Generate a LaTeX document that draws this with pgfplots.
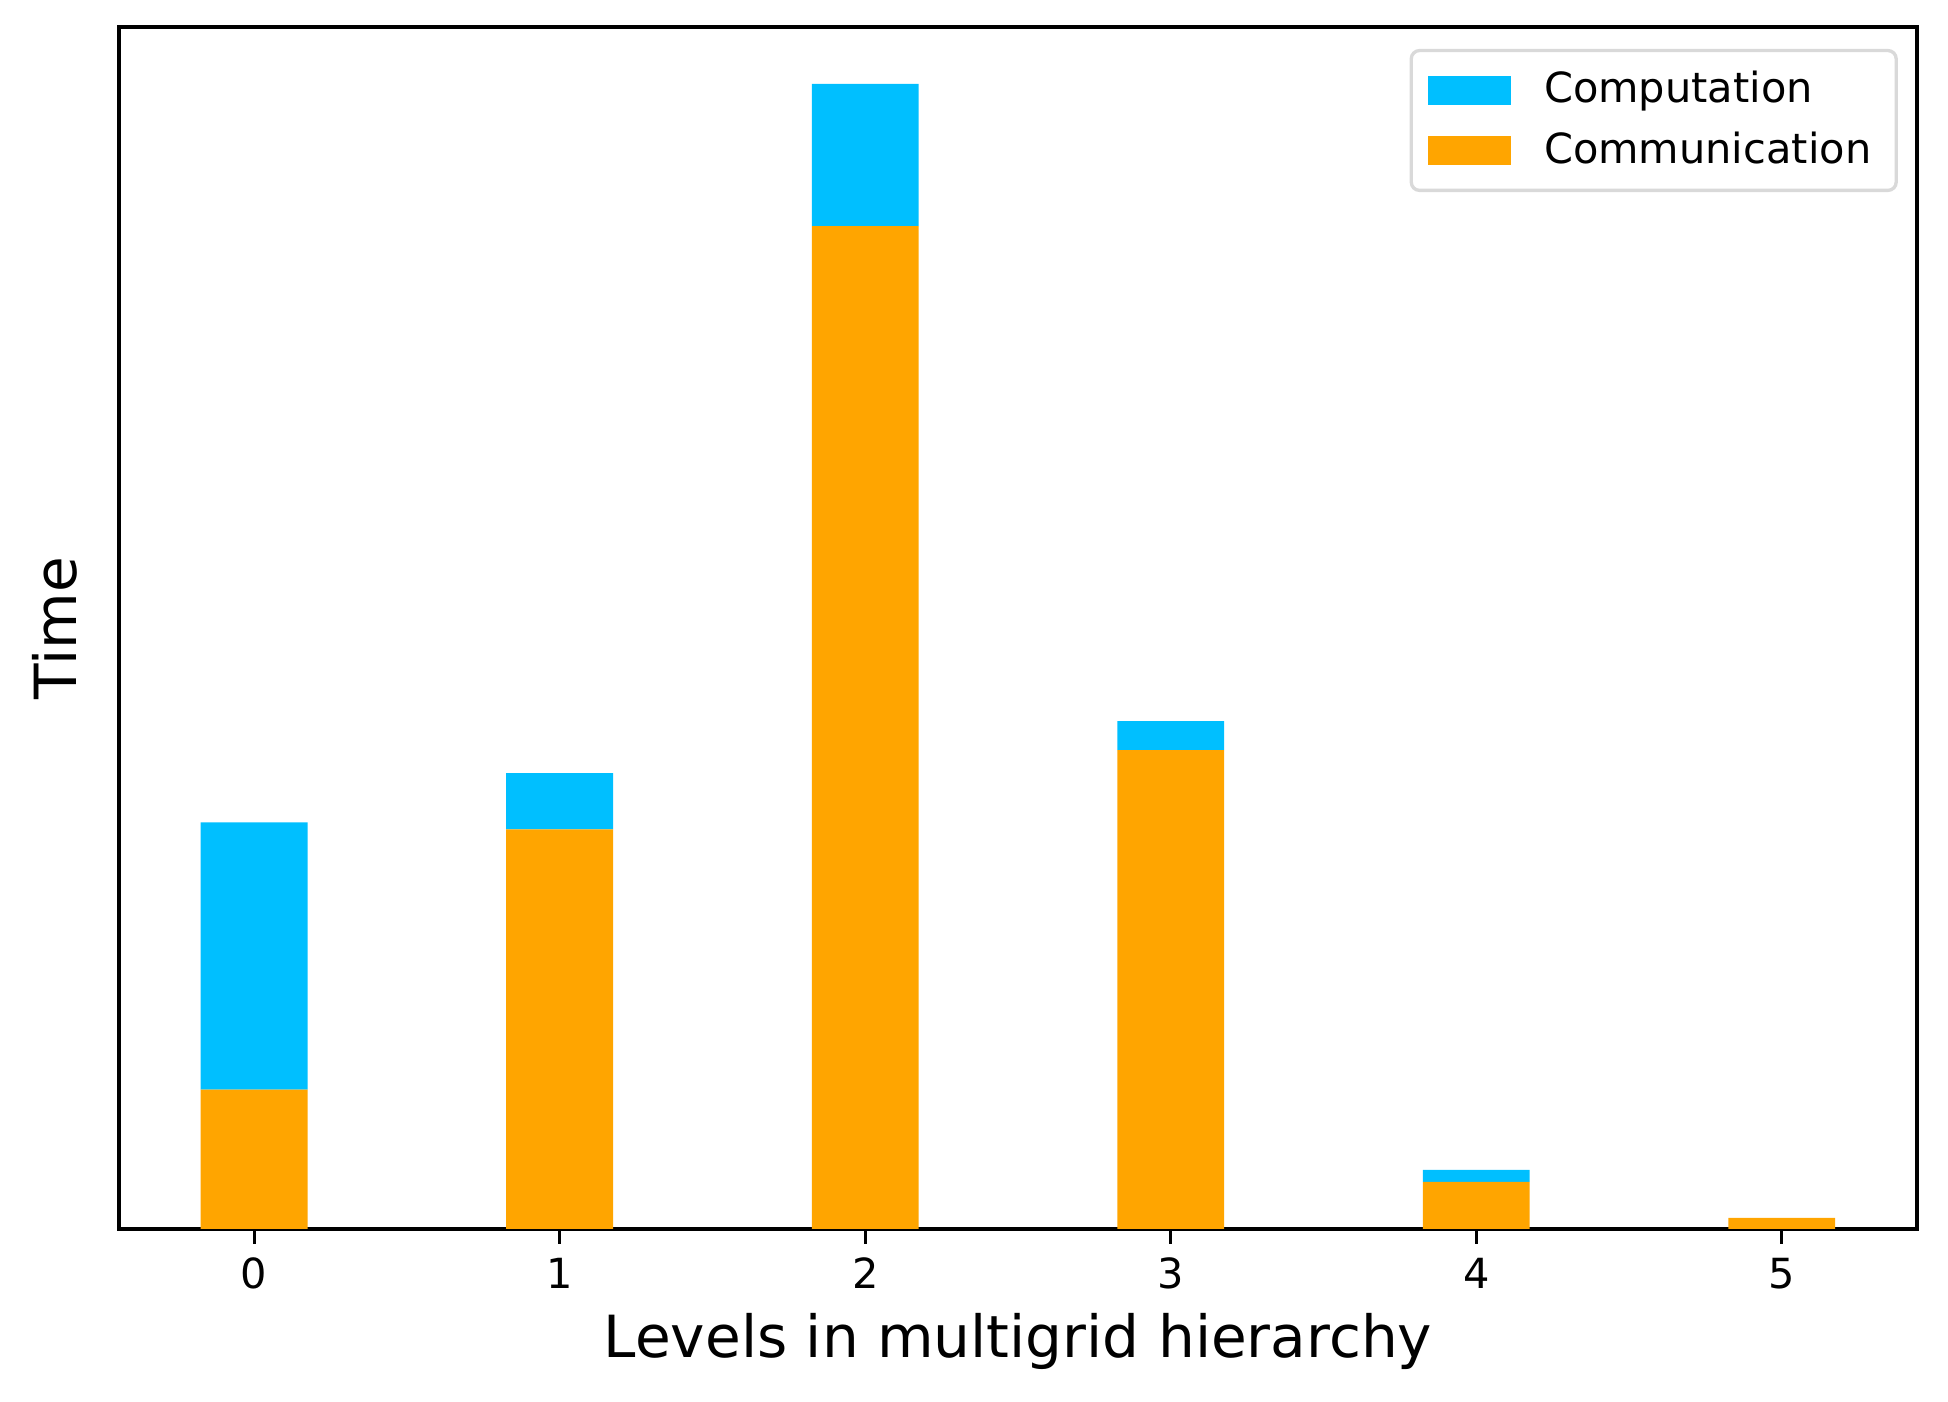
\documentclass[border=0pt]{standalone}
\usepackage{fontspec}
\setmainfont{DejaVu Sans}
\usepackage{pgfplots}
\pgfplotsset{compat=1.18}
\definecolor{compcol}{HTML}{00BFFF}
\definecolor{commcol}{HTML}{FFA500}

\pgfplotstableread{
lvl comm comp
0   139  267
1   399   56
2  1001  142
3   478   29
4    47   12
5    11    0
}\levels

\begin{document}
\begin{tikzpicture}
\useasboundingbox (-0.3967in,-0.5767in) rectangle ++(6.4933in,4.6733in);
\begin{axis}[
    at={(0,0)}, anchor=south west,
    scale only axis, width=5.993in, height=4.007in,
    ybar stacked, bar width=0.35, bar shift=0pt,
    xmin=-0.4425, xmax=5.4425, ymin=0, ymax=1200,
    xtick={0,1,2,3,4,5}, ytick=\empty,
    xtick pos=bottom, tick align=outside,
    major tick length=3.5pt,
    tick style={black, line width=0.8pt},
    axis line style={line width=0.8pt},
    /pgf/number format/assume math mode=true,
    tick label style={font=\fontsize{10}{12}\selectfont},
    xlabel={Levels in multigrid hierarchy},
    ylabel={Time},
    label style={font=\fontsize{14}{16}\selectfont},
    xlabel style={at={(rel axis cs:0.5,-0.0936)}, anchor=center},
    ylabel style={at={(rel axis cs:-0.0357,0.5)}, anchor=center},
    legend style={at={(0.9894,0.9817)}, anchor=north east,
        draw=black!15, line width=0.8pt, rounded corners=2pt,
        font=\fontsize{10}{12}\selectfont, row sep=1.5pt,
        inner xsep=4pt, inner ysep=3pt},
    legend cell align=left,
    reverse legend,
    legend image code/.code={
        \fill[#1, sharp corners] (0pt,-3.5pt) rectangle (20pt,3.5pt);
        \path (26pt,0pt);},
]
\addplot[fill=commcol, draw=none] table[x=lvl, y=comm] {\levels};
\addlegendentry{Communication}
\addplot[fill=compcol, draw=none] table[x=lvl, y=comp] {\levels};
\addlegendentry{Computation}
\end{axis}
\end{tikzpicture}
\end{document}
